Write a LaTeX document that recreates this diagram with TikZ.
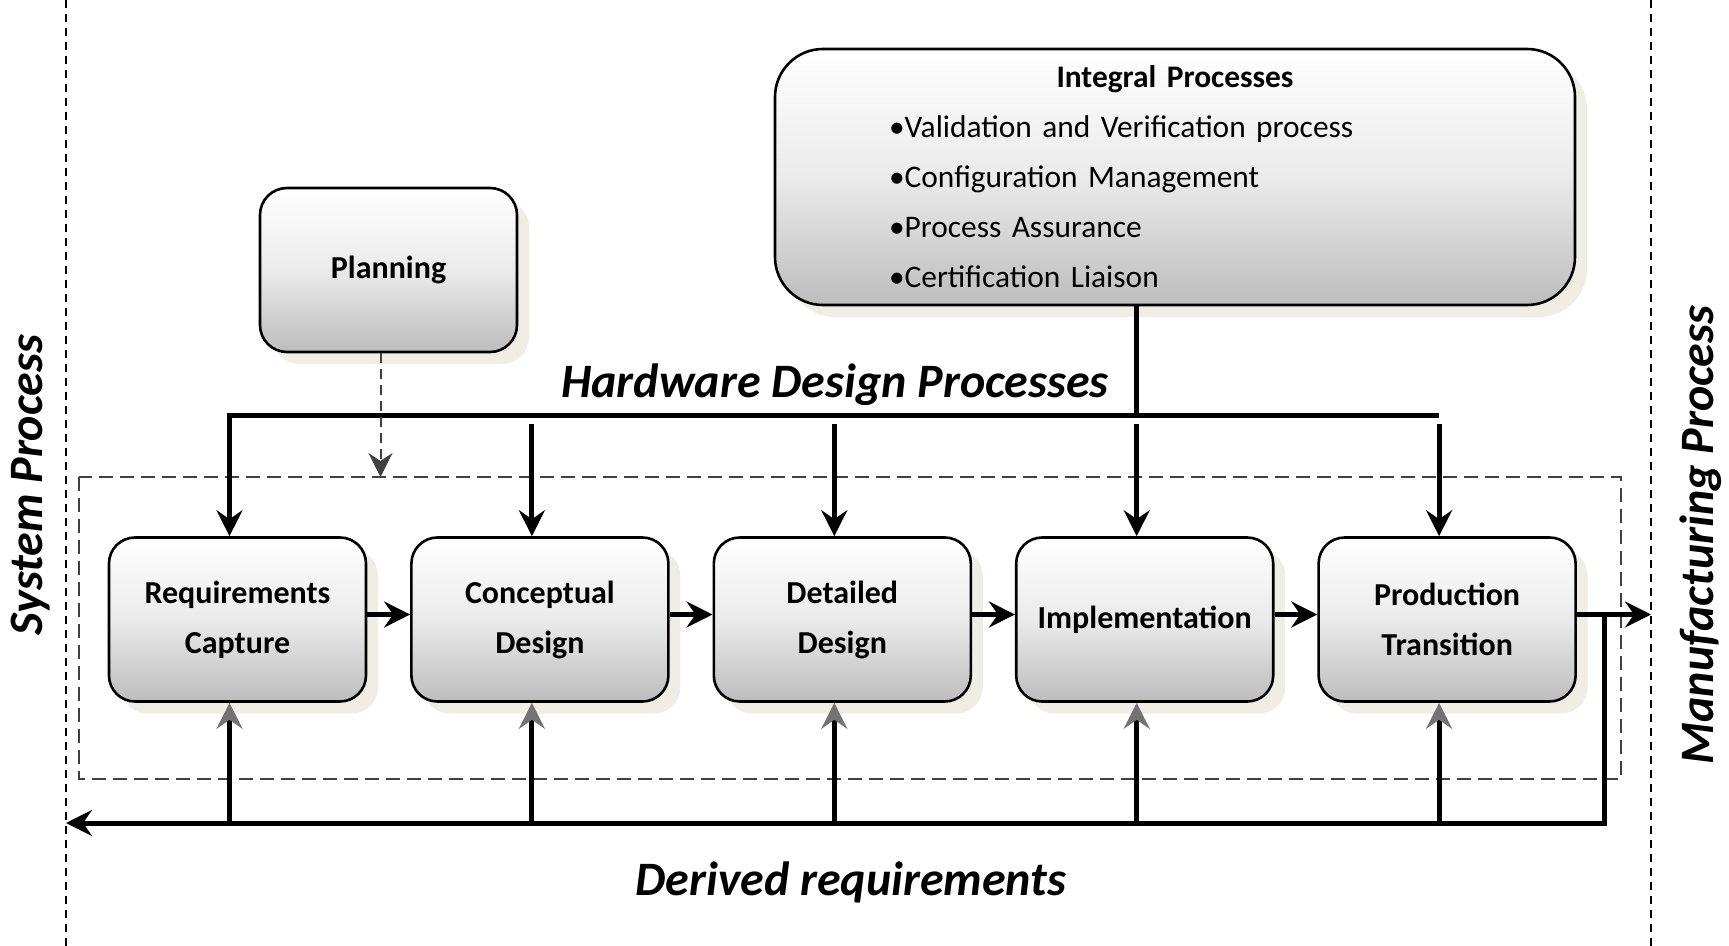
\documentclass[tikz,border=0pt]{standalone}
\usepackage{fontspec}
\setmainfont{Carlito}
\usetikzlibrary{positioning,arrows.meta,shadows}

\definecolor{shadowbeige}{RGB}{240,238,228}
\definecolor{framegray}{RGB}{64,64,64}

\begin{document}
\begin{tikzpicture}[x=0.5pt,y=-0.5pt,
    shadedbox/.style={draw,line width=1.3pt,top color=white,bottom color=black!26,middle color=black!8,
        drop shadow={shadow xshift=6pt,shadow yshift=-6pt,fill=shadowbeige,opacity=1}},
    procbox/.style={shadedbox,rounded corners=13pt,minimum width=128.5pt,minimum height=82pt,
        align=center,font=\fontsize{16}{25}\selectfont\bfseries},
    groupbox/.style={shadedbox,rounded corners=24pt,minimum width=400pt,minimum height=128pt,
        text width=286pt,align=left,font=\fontsize{15.7}{25}\selectfont},
    title/.style={font=\fontsize{24}{28}\selectfont\bfseries\itshape},
    bus/.style={line width=2.5pt},
    feed/.style={bus,-{Stealth[length=13pt,width=13pt,inset=4.5pt]}},
    back/.style={bus,-{Stealth[length=13pt,width=13pt,inset=4.5pt,color=black!55]}},
    border/.style={line width=1pt,dash pattern=on 4pt off 3pt},
    frame/.style={framegray,line width=0.8pt,dash pattern=on 7pt off 3.5pt},
    planlink/.style={framegray,line width=1pt,dash pattern=on 5pt off 3pt,
        -{Stealth[length=12pt,width=12pt,inset=4pt]}}]
        \useasboundingbox (0,0) rectangle (1729,946);

        \coordinate (topbus) at (0,416);
        \coordinate (botbus) at (1604,823);
        \coordinate (frametop) at (0,477);
        \coordinate (systop) at (66,0);
        \coordinate (sysbot) at (66,946);
        \coordinate (mfgtop) at (1651,0);
        \coordinate (mfgbot) at (1651,946);

        % process boundaries
        \draw[border] (systop) -- (sysbot);
        \draw[border] (mfgtop) -- (mfgbot);
        \node[title,rotate=90] (sysproc) at (31,485) {System Process};
        \node[title,rotate=90] (mfgproc) at (1701,535) {Manufacturing Process};
        \draw[frame] (79,477) rectangle (1621,779);

        \node[procbox,rounded corners=13.5pt] (plan) at (388.5,270) {Planning};
        \node[groupbox] (integral) at (1175,177) {\makebox[\linewidth][c]{\bfseries Integral Processes}\\
            \textbullet Validation and Verification process\\
            \textbullet Configuration Management\\
            \textbullet Process Assurance\\
            \textbullet Certification Liaison};

        \node[procbox] (req) at (237.5,619.5) {Requirements\\Capture};
        \node[procbox,right=21.4pt of req] (concept) {Conceptual\\Design};
        \node[procbox,right=21.4pt of concept] (detail) {Detailed\\Design};
        \node[procbox,right=21.4pt of detail] (impl) {Implementation};
        \node[procbox,right=21.4pt of impl] (prod) {Production\\Transition};

        \node[title] (hdp) at (835,385) {Hardware Design Processes};
        \node[title] (derived) at (851,882) {Derived requirements};

        % top bus
        \draw[bus] ([xshift=-4pt]impl.north |- integral.south) -- ([xshift=-4pt]impl.north |- topbus);
        \draw[feed] ([xshift=-4pt]prod.north |- topbus) -- ([xshift=-4pt]req.north |- topbus) -- ([xshift=-4pt]req.north);
        \foreach \n in {concept,detail,impl,prod}
            \draw[feed] ([xshift=-4pt,yshift=-4pt]\n.north |- topbus) -- ([xshift=-4pt]\n.north);
        \draw[planlink] ([xshift=-4pt]plan.south) -- ([xshift=-4pt]plan.south |- frametop);

        % flow
        \foreach \a/\b in {req/concept,concept/detail,detail/impl,impl/prod}
            \draw[feed] ([yshift=2.5pt]\a.east) -- ([yshift=2.5pt]\b.west);
        \draw[feed] ([yshift=2.5pt]prod.east) -- ([yshift=2.5pt]prod.east -| mfgtop);

        % derived requirements feedback
        \draw[feed] ([yshift=2.5pt]prod.east -| botbus) -- (botbus) -- (botbus -| systop);
        \foreach \n in {req,concept,detail,impl,prod}
            \draw[back] ([xshift=-4pt]\n.south |- botbus) -- ([xshift=-4pt]\n.south);
    \end{tikzpicture}
\end{document}
